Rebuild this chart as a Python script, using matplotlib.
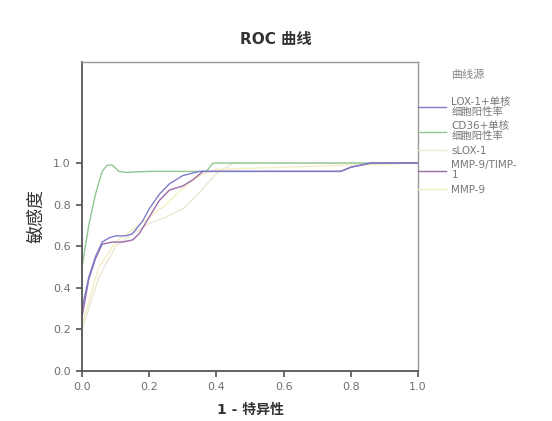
import matplotlib
matplotlib.use("Agg")
import matplotlib.pyplot as plt

plt.rcParams['font.family'] = ['DejaVu Sans', 'Noto Sans CJK SC']

# ROC curves
lox_x = [0, 0.02, 0.04, 0.06, 0.08, 0.10, 0.13, 0.15, 0.18, 0.20, 0.23, 0.26, 0.30, 0.35, 0.77, 0.80, 0.86, 1.0]
lox_y = [0.30, 0.45, 0.55, 0.62, 0.64, 0.65, 0.65, 0.66, 0.72, 0.78, 0.85, 0.90, 0.94, 0.96, 0.96, 0.98, 1.0, 1.0]

cd36_x = [0, 0.02, 0.04, 0.06, 0.075, 0.09, 0.11, 0.13, 0.20, 0.37, 0.39, 1.0]
cd36_y = [0.50, 0.70, 0.85, 0.96, 0.99, 0.99, 0.96, 0.955, 0.96, 0.96, 1.0, 1.0]

slox_x = [0, 0.05, 0.10, 0.15, 0.20, 0.25, 0.30, 0.35, 0.40, 0.45, 1.0]
slox_y = [0.20, 0.45, 0.60, 0.66, 0.71, 0.74, 0.78, 0.86, 0.95, 1.0, 1.0]

ratio_x = [0, 0.02, 0.04, 0.06, 0.09, 0.12, 0.15, 0.17, 0.20, 0.23, 0.26, 0.30, 0.33, 0.36, 0.77, 0.80, 0.86, 1.0]
ratio_y = [0.26, 0.44, 0.54, 0.61, 0.62, 0.62, 0.63, 0.66, 0.74, 0.82, 0.87, 0.89, 0.92, 0.96, 0.96, 0.98, 1.0, 1.0]

mmp_x = [0, 0.05, 0.10, 0.15, 0.20, 0.25, 0.30, 0.35, 0.40, 1.0]
mmp_y = [0.22, 0.50, 0.62, 0.68, 0.74, 0.80, 0.88, 0.94, 0.97, 1.0]

labels = ['LOX-1+单核\n细胞阳性率', 'CD36+单核\n细胞阳性率', 'sLOX-1', 'MMP-9/TIMP-\n1', 'MMP-9']
colors = ['#7c7cc8', '#90c890', '#ece6d6', '#9c6ca8', '#f3eec4']

fig = plt.figure(figsize=(5.52, 4.21), dpi=100)
ax = fig.add_axes([0.1486, 0.1188, 0.6087, 0.7339])

ax.plot(slox_x, slox_y, color=colors[2], lw=1.0, label=labels[2])
ax.plot(mmp_x, mmp_y, color=colors[4], lw=1.0, label=labels[4])
ax.plot(cd36_x, cd36_y, color=colors[1], lw=1.0, label=labels[1])
ax.plot(ratio_x, ratio_y, color=colors[3], lw=1.0, label=labels[3])
ax.plot(lox_x, lox_y, color=colors[0], lw=1.0, label=labels[0])

ax.set_xlim(0, 1.0)
ax.set_ylim(0, 1.486)
ax.set_xticks([0, 0.2, 0.4, 0.6, 0.8, 1.0])
ax.set_yticks([0, 0.2, 0.4, 0.6, 0.8, 1.0])
ax.set_xticklabels(['0.0', '0.2', '0.4', '0.6', '0.8', '1.0'])
ax.set_yticklabels(['0.0', '0.2', '0.4', '0.6', '0.8', '1.0'])
ax.tick_params(direction='out', length=4, width=1.2, colors='#555555', labelsize=8, labelcolor='#707070', pad=4)

for s in ['left', 'bottom']:
    ax.spines[s].set_color('#555555')
    ax.spines[s].set_linewidth(1.3)
for s in ['top', 'right']:
    ax.spines[s].set_color('#999999')
    ax.spines[s].set_linewidth(1.0)

ax.set_xlabel('1 - 特异性', fontsize=10, fontweight='bold', color='#333333', labelpad=8)
ax.set_ylabel('敏感度', fontsize=13, color='#333333', labelpad=6)

fig.text(0.5, 0.895, 'ROC 曲线', ha='center', fontsize=11, fontweight='bold', color='#333333')
fig.text(0.819, 0.822, '曲线源', ha='left', va='center', fontsize=8, color='#888888')

# legend order as in the reference
h, l = ax.get_legend_handles_labels()
order = [l.index(x) for x in labels]
leg = ax.legend([h[i] for i in order], [l[i] for i in order],
                loc='upper left', bbox_to_anchor=(1.0, 0.887), frameon=False,
                fontsize=7.5, handlelength=2.7, handletextpad=0.5, labelspacing=0.45,
                borderpad=0, borderaxespad=0)
for t in leg.get_texts():
    t.set_color('#777777')
    t.set_linespacing(0.95)

fig.savefig('out.png', dpi=100)
